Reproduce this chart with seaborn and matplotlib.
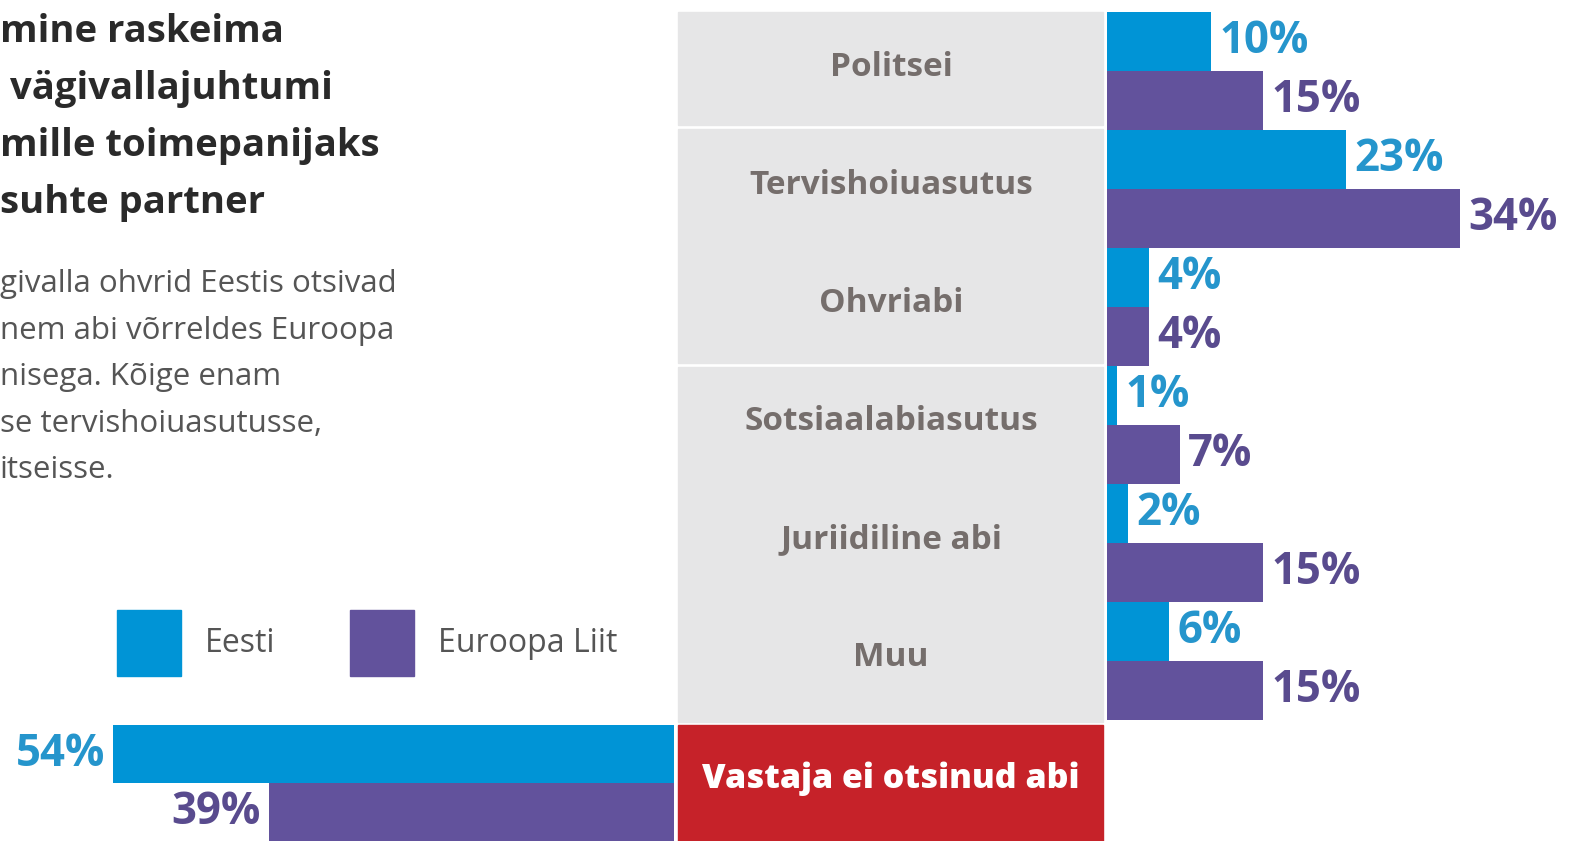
import numpy as np
import pandas as pd
import matplotlib
matplotlib.use('Agg')
import matplotlib.pyplot as plt
from matplotlib.patches import Rectangle, Patch
from matplotlib.transforms import blended_transform_factory
import seaborn as sns

# data
categories = ['Politsei', 'Tervishoiuasutus', 'Ohvriabi', 'Sotsiaalabiasutus', 'Juriidiline abi', 'Muu']
eesti = [10, 23, 4, 1, 2, 6]
euroopa = [15, 34, 4, 7, 15, 15]
regions = ['Eesti', 'Euroopa Liit']
no_help_label = 'Vastaja ei otsinud abi'
no_help_eesti = 54
no_help_euroopa = 39

title_lines = ['mine raskeima', 'vägivallajuhtumi', 'mille toimepanijaks', 'suhte partner']
body_lines = ['givalla ohvrid Eestis otsivad', 'nem abi võrreldes Euroopa',
              'nisega. Kõige enam', 'se tervishoiuasutusse,', 'itseisse.']

BLUE = '#0094d6'
PURPLE = '#62529c'
BLUE_TXT = '#2595cc'
PURPLE_TXT = '#594b8e'
GRAY = '#e6e6e7'
CAT_TXT = '#756e6c'
RED = '#c62229'

sns.set_style('white')
plt.rcParams['font.family'] = ['Open Sans', 'DejaVu Sans']

W, H = 1569, 841
PX_PER_PCT = 10.38


def fx(px):
    return px / W


def fy(py):
    return 1 - py / H


fig = plt.figure(figsize=(W / 100, H / 100), dpi=100)

# right side: bars per help source
df = pd.DataFrame({
    'category': categories * 2,
    'region': [regions[0]] * len(categories) + [regions[1]] * len(categories),
    'value': eesti + euroopa,
})
ax = fig.add_axes([fx(1107), fy(720), fx(W) - fx(1107), (720 - 12) / H])
sns.barplot(data=df, x='value', y='category', hue='region', palette=[BLUE, PURPLE],
            width=1.0, saturation=1, orient='h', legend=False, linewidth=0, ax=ax)
ax.set_xlim(0, (W - 1107) / PX_PER_PCT)
ax.set_ylim(len(categories) - 0.5, -0.5)
ax.axis('off')
for cont, col in zip(ax.containers, [BLUE_TXT, PURPLE_TXT]):
    ax.bar_label(cont, fmt='{:.0f}%', padding=6, color=col, fontsize=31.5, fontweight='bold')

# bottom: did not seek help, bars grow to the left
df2 = pd.DataFrame({
    'category': [no_help_label] * 2,
    'region': regions,
    'value': [no_help_eesti, no_help_euroopa],
})
ax2 = fig.add_axes([0, fy(H), fx(674), (H - 725) / H])
sns.barplot(data=df2, x='value', y='category', hue='region', palette=[BLUE, PURPLE],
            width=1.0, saturation=1, orient='h', legend=False, linewidth=0, ax=ax2)
ax2.set_xlim(674 / PX_PER_PCT, 0)
ax2.set_ylim(0.5, -0.5)
ax2.axis('off')
for cont, col in zip(ax2.containers, [BLUE_TXT, PURPLE_TXT]):
    ax2.bar_label(cont, fmt='{:.0f}%', padding=6, color=col, fontsize=31.5, fontweight='bold')

# grey label panel split in blocks
for top, bot in [(12, 125), (129, 363), (367, 722)]:
    fig.add_artist(Rectangle((fx(678), fy(bot)), fx(1103) - fx(678), (bot - top) / H,
                             transform=fig.transFigure, color=GRAY, zorder=0))
trans = blended_transform_factory(fig.transFigure, ax.transData)
for i, cat in enumerate(categories):
    ax.text(fx(891), i - 0.03, cat, transform=trans, ha='center', va='center',
            fontsize=24, fontweight='bold', color=CAT_TXT, clip_on=False)

fig.add_artist(Rectangle((fx(678), 0), fx(1103) - fx(678), (H - 725) / H,
                         transform=fig.transFigure, color=RED, zorder=0))
fig.text(fx(891), fy(779), no_help_label, ha='center', va='center',
         fontsize=24.5, fontweight='heavy', color='white')

# title + text at the left edge
title_x = [0, 10, 0, 0]
for i, line in enumerate(title_lines):
    fig.text(fx(title_x[i]), fy(32 + i * 57), line, ha='left', va='center',
             fontsize=27.5, fontweight='bold', color='#2a2a2a')
for i, line in enumerate(body_lines):
    fig.text(0, fy(284 + i * 46.5), line, ha='left', va='center',
             fontsize=22.5, color='#555555')

handles = [Patch(color=BLUE), Patch(color=PURPLE)]
fig.legend(handles, regions, loc='center left', bbox_to_anchor=(fx(117), fy(643)),
           ncol=2, frameon=False, fontsize=23, handlelength=2.0, handleheight=2.81,
           handletextpad=0.75, columnspacing=2.35, borderpad=0, borderaxespad=0,
           labelcolor='#555555')

fig.savefig('out.png', dpi=100)
